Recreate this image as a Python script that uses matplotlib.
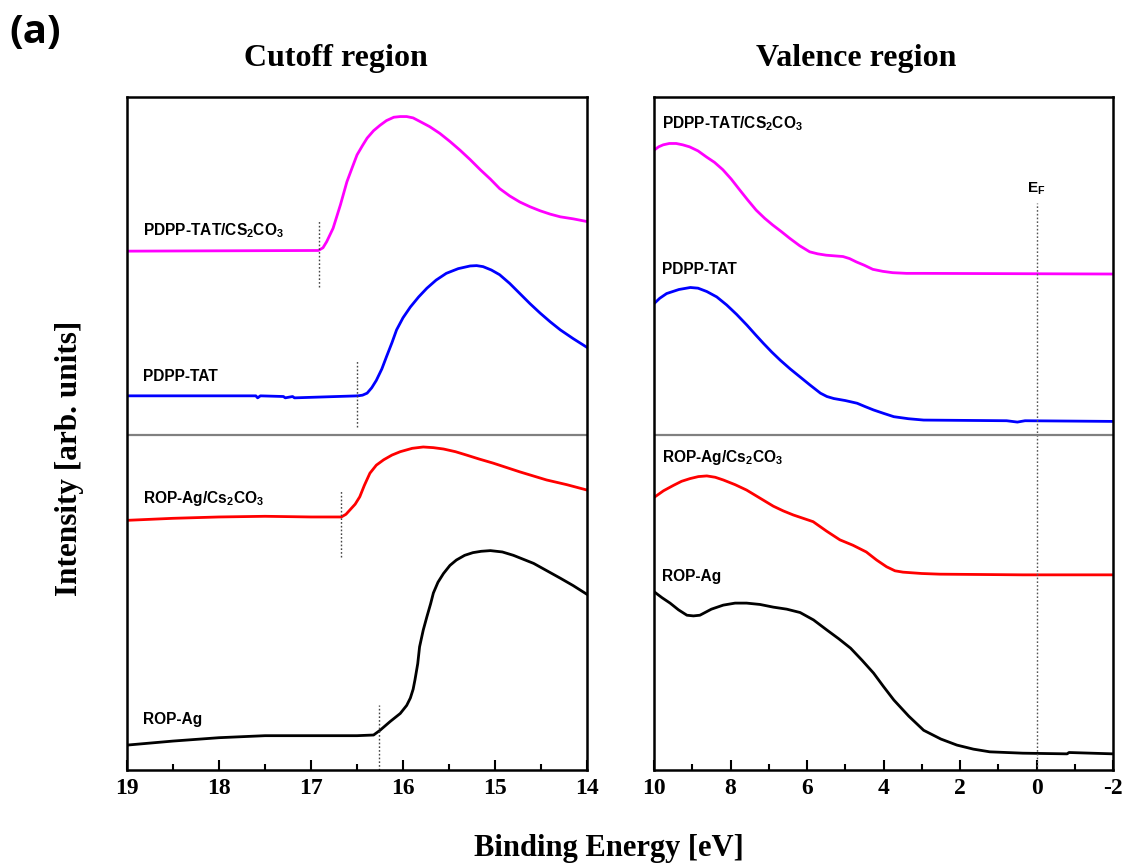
import numpy as np
import matplotlib
matplotlib.use('Agg')
import matplotlib.pyplot as plt

plt.rcParams['mathtext.fontset'] = 'custom'
plt.rcParams['mathtext.rm'] = 'Liberation Sans:bold'
plt.rcParams['mathtext.it'] = 'Liberation Sans:bold'
plt.rcParams['mathtext.bf'] = 'Liberation Sans:bold'
plt.rcParams['axes.unicode_minus'] = False

# ---- cutoff region (binding energy in eV, intensity in arb. units) ----
cut_magenta_e = [19.0, 16.92, 16.87, 16.83, 16.76, 16.68, 16.61, 16.55, 16.50, 16.44, 16.39, 16.32,
                 16.25, 16.18, 16.10, 16.03, 15.96, 15.89, 15.82, 15.71, 15.60, 15.49, 15.38, 15.27,
                 15.16, 15.05, 14.95, 14.84, 14.73, 14.62, 14.51, 14.40, 14.29, 14.15, 14.0]
cut_magenta_i = [77.1, 77.2, 77.6, 78.5, 80.5, 84.0, 87.4, 89.6, 91.4, 92.8, 93.9, 95.0,
                 95.8, 96.5, 97.0, 97.1, 97.1, 96.9, 96.4, 95.6, 94.6, 93.4, 92.1, 90.7,
                 89.2, 87.8, 86.4, 85.3, 84.4, 83.7, 83.1, 82.6, 82.2, 81.9, 81.5]

cut_blue_e = [19.0, 17.6, 17.58, 17.55, 17.3, 17.28, 17.2, 17.18, 16.49, 16.44, 16.39, 16.34, 16.29,
              16.23, 16.18, 16.12, 16.07, 16.00, 15.92, 15.83, 15.74, 15.64, 15.53, 15.40, 15.27,
              15.20, 15.13, 15.04, 14.95, 14.84, 14.73, 14.62, 14.51, 14.40, 14.29, 14.15, 14.0]
cut_blue_i = [55.6, 55.6, 55.3, 55.6, 55.5, 55.3, 55.5, 55.3, 55.6, 55.7, 56.0, 56.8, 57.9,
              59.6, 61.4, 63.5, 65.4, 67.2, 68.8, 70.3, 71.6, 72.8, 73.8, 74.5, 74.9,
              74.95, 74.8, 74.3, 73.6, 72.3, 70.8, 69.3, 67.9, 66.6, 65.4, 64.1, 62.8]

cut_red_e = [19.0, 18.5, 18.0, 17.5, 17.0, 16.67, 16.62, 16.58, 16.52, 16.47, 16.42, 16.36, 16.29,
             16.21, 16.12, 16.03, 15.90, 15.78, 15.67, 15.56, 15.43, 15.31, 15.17, 15.02, 14.73,
             14.44, 14.22, 14.0]
cut_red_i = [37.1, 37.4, 37.6, 37.7, 37.6, 37.6, 38.0, 38.6, 39.5, 40.6, 42.3, 44.1, 45.3,
             46.1, 46.8, 47.3, 47.8, 48.0, 47.9, 47.7, 47.3, 46.8, 46.2, 45.6, 44.3,
             43.1, 42.4, 41.6]

cut_black_e = [19.0, 18.5, 18.0, 17.5, 17.0, 16.5, 16.32, 16.25, 16.14, 16.03, 15.96, 15.92, 15.89,
               15.87, 15.84, 15.82, 15.78, 15.74, 15.70, 15.67, 15.62, 15.56, 15.49, 15.42, 15.33,
               15.24, 15.15, 15.05, 14.92, 14.80, 14.58, 14.29, 14.15, 14.0]
cut_black_i = [3.7, 4.3, 4.8, 5.1, 5.1, 5.1, 5.2, 5.9, 7.2, 8.4, 9.6, 10.7, 12.0,
               13.4, 15.8, 18.3, 20.8, 22.8, 24.7, 26.3, 27.9, 29.2, 30.4, 31.2, 31.9,
               32.3, 32.5, 32.6, 32.4, 31.9, 30.7, 28.5, 27.4, 26.1]

# secondary electron cutoff markers: energy, low, high
cutoff_e = [16.91, 16.50, 16.67, 16.26]
cutoff_lo = [71.8, 51.0, 31.7, 0.0]
cutoff_hi = [81.7, 60.9, 41.4, 9.7]

# ---- valence region ----
val_magenta_e = [10, 9.88, 9.76, 9.6, 9.42, 9.25, 9.07, 8.85, 8.63, 8.42, 8.20, 7.98, 7.76,
                 7.55, 7.33, 7.11, 6.90, 6.67, 6.45, 6.19, 5.93, 5.72, 5.50, 5.28, 5.06, 4.89,
                 4.71, 4.50, 4.28, 4.02, 3.76, 3.4, 2.97, -2]
val_magenta_i = [92.1, 92.6, 92.9, 93.1, 93.1, 92.9, 92.6, 92.0, 91.1, 90.3, 89.2, 87.8, 86.2,
                 84.7, 83.2, 82.0, 81.0, 80.0, 79.0, 77.9, 77.0, 76.7, 76.5, 76.4, 76.3, 76.0,
                 75.5, 75.0, 74.4, 74.1, 73.9, 73.8, 73.8, 73.7]

val_blue_e = [10, 9.85, 9.67, 9.35, 9.05, 8.85, 8.62, 8.36, 8.10, 7.84, 7.57, 7.35, 7.14, 6.92,
              6.70, 6.44, 6.18, 5.92, 5.65, 5.48, 5.30, 5.00, 4.69, 4.48, 4.26, 4.00, 3.73, 3.35,
              2.95, 0.78, 0.5, 0.3, -2]
val_blue_i = [69.3, 70.1, 70.8, 71.4, 71.7, 71.6, 71.1, 70.3, 69.1, 67.7, 66.1, 64.7, 63.4, 62.1,
              60.9, 59.6, 58.4, 57.2, 56.0, 55.5, 55.2, 54.9, 54.5, 54.0, 53.5, 53.0, 52.5, 52.2,
              52.0, 51.9, 51.7, 51.9, 51.8]

val_red_e = [10, 9.75, 9.49, 9.28, 9.06, 8.84, 8.62, 8.40, 8.19, 7.88, 7.58, 7.23, 6.88, 6.62,
             6.36, 6.10, 5.84, 5.49, 5.14, 4.80, 4.45, 4.18, 3.92, 3.70, 3.49, 3.0, 2.53, 0.36, -2]
val_red_i = [40.5, 41.5, 42.3, 42.9, 43.3, 43.6, 43.7, 43.5, 43.1, 42.4, 41.6, 40.4, 39.2, 38.5,
             37.9, 37.4, 36.9, 35.5, 34.2, 33.4, 32.4, 31.2, 30.2, 29.6, 29.4, 29.2, 29.1, 29.0, 29.0]

val_black_e = [10, 9.79, 9.58, 9.36, 9.14, 8.97, 8.80, 8.50, 8.19, 7.88, 7.58, 7.23, 6.88, 6.53,
               6.18, 5.83, 5.48, 5.17, 4.86, 4.56, 4.26, 4.00, 3.73, 3.34, 2.95, 2.5, 2.08, 1.65,
               1.22, 0.36, -0.8, -0.85, -2]
val_black_i = [26.5, 25.6, 24.8, 23.8, 23.0, 22.9, 23.0, 23.9, 24.5, 24.8, 24.8, 24.6, 24.2, 23.9,
               23.4, 22.3, 20.8, 19.5, 18.1, 16.3, 14.4, 12.4, 10.4, 8.0, 5.9, 4.6, 3.7, 3.1,
               2.7, 2.5, 2.4, 2.6, 2.4]

fermi_e = 0.0
fermi_top = 84.2
divider_i = 49.8

sample_names = ['PDPP-TAT/CS$_2$CO$_3$', 'PDPP-TAT', 'ROP-Ag/Cs$_2$CO$_3$', 'ROP-Ag']
colors = ['#ff00ff', '#0000ff', '#ff0000', '#000000']

cut_label_y = [80.2, 58.4, 40.3, 7.5]
val_label_y = [96.0, 74.4, 46.4, 28.8]

fig = plt.figure(figsize=(11.28, 8.68), dpi=100)
ax1 = fig.add_axes([0.1126, 0.1129, 0.4078, 0.7753])
ax2 = fig.add_axes([0.5798, 0.1129, 0.4069, 0.7753])

cut_e = [cut_magenta_e, cut_blue_e, cut_red_e, cut_black_e]
cut_i = [cut_magenta_i, cut_blue_i, cut_red_i, cut_black_i]
val_e = [val_magenta_e, val_blue_e, val_red_e, val_black_e]
val_i = [val_magenta_i, val_blue_i, val_red_i, val_black_i]

for k in range(4):
    ax1.plot(cut_e[k], cut_i[k], color=colors[k], lw=2.0, solid_joinstyle='round')
    ax1.plot([cutoff_e[k], cutoff_e[k]], [cutoff_lo[k], cutoff_hi[k]], color='#444444',
             ls=(0, (1.2, 1.5)), lw=1.0)
    ax2.plot(val_e[k], val_i[k], color=colors[k], lw=2.0, solid_joinstyle='round')

ax2.plot([fermi_e, fermi_e], [0, fermi_top], color='#555555', ls=(0, (1.2, 1.5)), lw=1.0)
ax2.text(fermi_e, fermi_top + 1.0, 'E$_F$', ha='center', va='bottom', fontsize=11,
         family='Liberation Sans', fontweight='bold')

for ax in (ax1, ax2):
    ax.axhline(divider_i, color='#808080', lw=1.6)
    ax.set_ylim(0, 100)
    ax.set_yticks([])
    for s in ax.spines.values():
        s.set_linewidth(1.8)
    ax.tick_params(axis='x', which='major', direction='in', length=7, width=1.5, pad=6)
    ax.tick_params(axis='x', which='minor', direction='in', length=4, width=1.5)

ax1.set_xlim(19, 14)
ax1.set_xticks([19, 18, 17, 16, 15, 14])
ax1.set_xticks(np.arange(14.5, 19, 1.0), minor=True)
ax2.set_xlim(10, -2)
ax2.set_xticks([10, 8, 6, 4, 2, 0, -2])
ax2.set_xticks(np.arange(-1, 10, 2), minor=True)

for ax in (ax1, ax2):
    for lab in ax.get_xticklabels():
        lab.set_family('Liberation Serif')
        lab.set_fontweight('bold')
        lab.set_fontsize(17)

for k in range(4):
    ax1.text(18.83, cut_label_y[k], sample_names[k], fontsize=11.2, family='Liberation Sans',
             fontweight='bold', va='center', ha='left')
    ax2.text(9.8, val_label_y[k], sample_names[k], fontsize=11.2, family='Liberation Sans',
             fontweight='bold', va='center', ha='left')

fig.text(0.298, 0.933, 'Cutoff region', ha='center', va='center', fontsize=23,
         family='Liberation Serif', fontweight='bold')
fig.text(0.759, 0.933, 'Valence region', ha='center', va='center', fontsize=23,
         family='Liberation Serif', fontweight='bold')
fig.text(0.54, 0.023, 'Binding Energy [eV]', ha='center', va='center', fontsize=22,
         family='Liberation Serif', fontweight='bold')
fig.text(0.062, 0.472, 'Intensity [arb. units]', ha='center', va='center', fontsize=22.5,
         family='Liberation Serif', fontweight='bold', rotation=90)
fig.text(0.008, 0.962, '(a)', ha='left', va='center', fontsize=29,
         family='Open Sans', fontweight='bold')

fig.savefig('out.png', dpi=100)
